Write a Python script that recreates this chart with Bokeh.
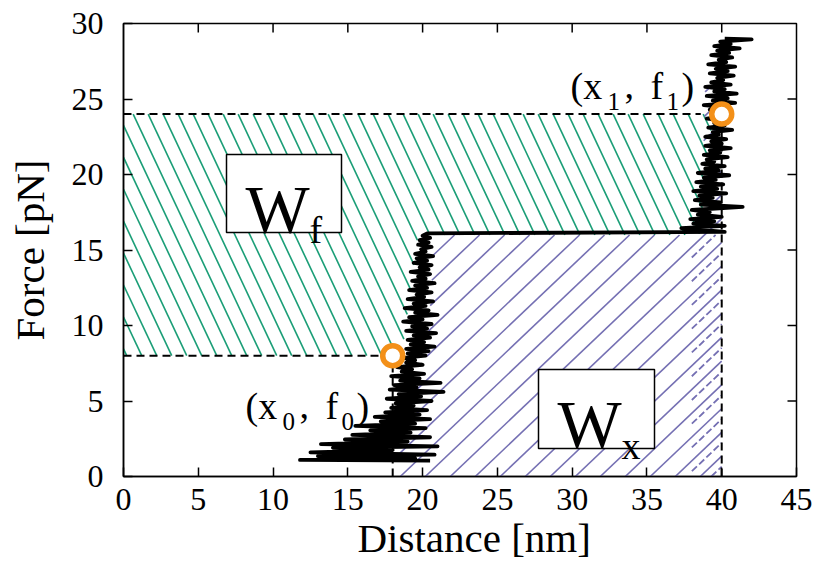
import numpy as np
from bokeh.plotting import figure
from bokeh.models import Range1d, FixedTicker, Title
from bokeh.core.properties import value
from bokeh.embed import file_html
from bokeh.resources import INLINE

# ---------------- data ----------------
x_ticks = [0, 5, 10, 15, 20, 25, 30, 35, 40, 45]
y_ticks = [0, 5, 10, 15, 20, 25, 30]
x_label = "Distance [nm]"
y_label = "Force [pN]"

x0, f0 = 18.0, 8.0     # start point
x1, f1 = 40.0, 24.0    # end point

# lower (folded) branch of the trace
lower_x = [20.5, 11.8, 19.5, 13.0, 20.8, 12.5, 18.0, 14.0, 21.0, 13.2, 19.0, 14.8, 20.5, 15.3, 19.2,
           16.5, 20.2, 15.5, 19.5, 17.2, 20.5, 16.8, 19.8, 17.5, 20.3, 17.9, 19.4, 18.2, 20.6, 17.6,
           19.9, 18.4, 21.4, 17.8, 19.6, 18.1, 21.2, 18.5, 19.8, 17.9, 20.1, 18.6, 19.3, 18.3, 20.0,
           18.9, 19.5, 18.7, 20.2, 19.0, 20.4, 18.9, 20.8, 19.2, 20.1, 19.0, 20.5, 19.4, 20.9, 18.9,
           20.3, 19.3, 20.6, 18.7, 20.0, 19.1, 21.0, 19.5, 20.4, 18.8, 20.2, 19.4, 20.7, 19.0, 20.1,
           19.6, 20.6, 19.1, 20.3, 19.5, 20.8, 19.3, 20.2, 19.7, 20.5, 19.2, 20.4, 19.8, 20.6, 19.4,
           20.3, 19.6, 20.7, 19.5, 20.2, 19.9, 20.6, 19.7, 20.4, 19.8, 20.5, 20.0, 20.3]
lower_y = [1.05, 1.1, 1.2, 1.35, 1.45, 1.6, 1.75, 1.9, 2.0, 2.15, 2.3, 2.45, 2.6, 2.75, 2.9,
           3.05, 3.2, 3.35, 3.5, 3.65, 3.8, 3.95, 4.1, 4.25, 4.4, 4.55, 4.7, 4.85, 5.0, 5.15,
           5.3, 5.45, 5.6, 5.75, 5.9, 6.05, 6.2, 6.35, 6.5, 6.65, 6.8, 6.95, 7.1, 7.25, 7.4,
           7.55, 7.7, 7.85, 8.0, 8.15, 8.3, 8.45, 8.6, 8.75, 8.9, 9.05, 9.2, 9.35, 9.5, 9.65,
           9.8, 9.95, 10.1, 10.25, 10.4, 10.55, 10.7, 10.85, 11.0, 11.15, 11.3, 11.45, 11.6, 11.75, 11.9,
           12.05, 12.2, 12.35, 12.5, 12.65, 12.8, 12.95, 13.1, 13.25, 13.4, 13.55, 13.7, 13.85, 14.0, 14.15,
           14.3, 14.45, 14.6, 14.75, 14.9, 15.05, 15.2, 15.35, 15.5, 15.65, 15.8, 15.95, 16.1]

# unfolding jump (plateau)
jump_x = [40.2]
jump_y = [16.2]

# upper (unfolded) branch of the trace
upper_x = [37.3, 40.2, 38.1, 39.5, 37.9, 40.0, 38.4, 39.2, 38.0, 41.4, 38.6, 39.9, 38.2, 39.4, 38.5,
           40.3, 38.1, 39.7, 38.6, 40.1, 38.3, 39.6, 38.8, 40.5, 38.4, 39.8, 38.9, 40.2, 38.7, 39.5,
           39.0, 40.4, 38.8, 39.9, 39.2, 40.6, 38.9, 40.0, 39.3, 40.3, 38.9, 39.8, 39.4, 40.7, 39.1,
           40.2, 39.5, 40.5, 39.0, 40.1, 39.6, 40.6, 39.2, 40.3, 38.8, 40.9, 39.4, 40.4, 39.0, 41.0,
           39.5, 40.2, 38.9, 40.6, 39.3, 40.1, 39.7, 40.8, 39.2, 40.4, 39.6, 40.9, 39.1, 40.3, 39.8,
           40.7, 39.3, 40.5, 39.7, 41.2, 39.5, 40.6, 39.9, 42.0, 40.2]
upper_y = [16.45, 16.6, 16.75, 16.9, 17.05, 17.2, 17.35, 17.5, 17.65, 17.85, 18.0, 18.15, 18.3, 18.45, 18.6,
           18.75, 18.9, 19.05, 19.2, 19.35, 19.5, 19.65, 19.8, 19.95, 20.1, 20.25, 20.4, 20.55, 20.7, 20.85,
           21.0, 21.15, 21.3, 21.45, 21.6, 21.75, 21.9, 22.05, 22.2, 22.35, 22.5, 22.65, 22.8, 22.95, 23.1,
           23.25, 23.4, 23.55, 23.7, 23.85, 24.0, 24.15, 24.3, 24.45, 24.6, 24.75, 24.9, 25.05, 25.2, 25.35,
           25.5, 25.65, 25.8, 25.95, 26.1, 26.25, 26.4, 26.55, 26.7, 26.85, 27.0, 27.15, 27.3, 27.45, 27.6,
           27.75, 27.9, 28.05, 28.2, 28.35, 28.5, 28.65, 28.8, 28.95, 29.0]

# boundaries of the shaded work areas
wf_edge_low_y = [8.0, 16.0]          # W_f right edge, below plateau
wf_edge_low_x = [18.6, 19.7]
wf_edge_high_y = [16.0, 24.0]        # W_f right edge, above plateau
wf_edge_high_x = [38.5, 39.4]
wx_edge_y = [0.0, 4.0, 8.0, 16.0]    # W_x left edge
wx_edge_x = [18.0, 18.8, 20.3, 20.8]
wx_strip_top = 25.8                  # W_x strip near x1
wx_strip_x = [38.6, 38.9]

# ---------------- figure ----------------
W, H = 816, 564
L, R, T, B = 123, 20, 23, 88
TICK = 9
p = figure(width=W, height=H, output_backend="svg", toolbar_location=None,
           x_range=Range1d(0, 45), y_range=Range1d(0, 30),
           min_border_left=L, min_border_right=R, min_border_top=T, min_border_bottom=B)
p.background_fill_color = "white"
p.border_fill_color = "white"
p.grid.visible = False
p.outline_line_color = "black"
p.outline_line_width = 1.5

sx = (W - L - R) / 45.0
sy = (H - T - B) / 30.0


def px2x(px):
    return (px - L) / sx


def px2y(py):
    return (H - B - py) / sy


FONT = "'Liberation Serif', 'DejaVu Serif', serif"
GREEN = "#1b9e77"
PURPLE = "#7570b3"
ORANGE = "#f39019"


def hatch(c_start, c_stop, c_step, k, ylo, yhi, inside):
    ys = np.linspace(ylo, yhi, 4001)
    xa, ya, xb, yb = [], [], [], []
    for c in np.arange(c_start, c_stop, c_step):
        xs = c + k * ys
        m = inside(xs, ys).astype(int)
        if not m.any():
            continue
        d = np.diff(np.concatenate([[0], m, [0]]))
        starts = np.nonzero(d == 1)[0]
        ends = np.nonzero(d == -1)[0] - 1
        for i0, i1 in zip(starts, ends):
            if i1 > i0:
                xa.append(xs[i0]); ya.append(ys[i0]); xb.append(xs[i1]); yb.append(ys[i1])
    return xa, ya, xb, yb


# W_f area (green, "\" hatch)
def in_wf(xs, ys):
    a = (ys >= f0) & (ys <= 16.0) & (xs >= 0) & (xs <= np.interp(ys, wf_edge_low_y, wf_edge_low_x))
    b = (ys > 16.0) & (ys <= f1) & (xs >= 0) & (xs <= np.interp(ys, wf_edge_high_y, wf_edge_high_x))
    return a | b


kg = -0.47 * sy / sx
g = hatch(0.0, 60.0, 15.0 / sx, kg, f0, f1, in_wf)
p.segment(g[0], g[1], g[2], g[3], line_color=GREEN, line_width=1.6)


# W_x area (purple, "/" hatch)
def in_wx(xs, ys):
    a = (ys >= 0) & (ys <= 16.0) & (xs >= np.interp(ys, wx_edge_y, wx_edge_x)) & (xs <= x1)
    b = (ys > 16.0) & (ys <= wx_strip_top) & (xs >= np.interp(ys, [16.0, wx_strip_top], wx_strip_x)) & (xs <= x1)
    return a | b


kp = (1 / 0.95) * sy / sx
pu = hatch(-40.0, 45.0, 25.0 / sx, kp, 0.0, wx_strip_top, in_wx)
p.segment(pu[0], pu[1], pu[2], pu[3], line_color=PURPLE, line_width=1.6)


def in_strip(xs, ys):
    return (ys >= 0) & (ys <= 16.0) & (xs >= 38.0) & (xs <= x1)


ps = hatch(-40.0 + 11.0 / sx, 45.0, 25.0 / sx, kp, 0.0, 16.0, in_strip)
p.segment(ps[0], ps[1], ps[2], ps[3], line_color=PURPLE, line_width=1.8, line_dash="7 3")

# dashed guide lines
p.segment([0, 0, x0, x1], [f1, f0, 0, 0], [wf_edge_high_x[-1] - 0.8, x0, x0, x1], [f1, f0, f0, f1],
          line_color="black", line_width=2, line_dash="8 5")

# trace
trace_x = lower_x + jump_x + upper_x
trace_y = lower_y + jump_y + upper_y
p.line(trace_x, trace_y, line_color="black", line_width=3.8, line_join="round")

# label boxes
boxes = [(226, 341, 154, 232), (538, 654, 369, 448)]
p.quad(left=[px2x(b[0]) for b in boxes], right=[px2x(b[1]) for b in boxes],
       top=[px2y(b[2]) for b in boxes], bottom=[px2y(b[3]) for b in boxes],
       fill_color="white", line_color="black", line_width=1.5)


def put(txt, px, py, size):
    p.text(x=[px2x(px)], y=[px2y(py)], text=[txt], text_font=value(FONT),
           text_font_size=value(f"{size}px"), text_align="left", text_baseline="alphabetic",
           text_color="black")


put("W", 245, 208, 68)
put("f", 309, 229, 38)
put("W", 557, 423, 68)
put("x", 621, 445, 38)


def point_label(ax, ay, sub):
    pieces = [("(x", 0, 0, 38), (sub, 37, 16, 25), (",", 54, 0, 38), ("f", 80, 0, 38),
              (sub, 96, 16, 25), (")", 111, 0, 38)]
    for t, dx, dy, s in pieces:
        put(t, ax + dx, ay + dy, s)


point_label(245, 405, "0")
point_label(570, 85, "1")

# end points
p.scatter([x0, x1], [f0, f1], marker="circle", size=20, fill_color="white",
          line_color=ORANGE, line_width=5.5)

# mirrored inward ticks on the top and right edges of the frame
top_ticks = x_ticks[1:-1]
right_ticks = y_ticks[1:-1]
p.segment(top_ticks, [30] * len(top_ticks), top_ticks, [30 - TICK / sy] * len(top_ticks),
          line_color="black", line_width=1.5)
p.segment([45] * len(right_ticks), right_ticks, [45 - TICK / sx] * len(right_ticks), right_ticks,
          line_color="black", line_width=1.5)

# axes
for ax in (p.xaxis[0], p.yaxis[0]):
    ax.major_tick_in = TICK
    ax.major_tick_out = 0
    ax.minor_tick_line_color = None
    ax.axis_line_color = "black"
    ax.axis_line_width = 1.5
    ax.major_tick_line_width = 1.5
    ax.major_label_text_font = FONT
    ax.major_label_text_font_size = "32px"
    ax.major_label_text_color = "black"
    ax.axis_label_text_font = FONT
    ax.axis_label_text_font_size = "41px"
    ax.axis_label_text_font_style = "normal"
    ax.axis_label_text_color = "black"
p.xaxis.ticker = FixedTicker(ticks=x_ticks)
p.yaxis.ticker = FixedTicker(ticks=y_ticks)
p.yaxis.axis_label = y_label
p.xaxis.major_label_standoff = 12
p.yaxis.major_label_standoff = 20
p.yaxis.axis_label_standoff = 16

# x axis title, placed as in the reference (left edge ~234 px right of the frame's left side)
p.add_layout(Title(text=x_label, align="left", offset=234, standoff=0,
                   text_font=FONT, text_font_size="41px", text_font_style="normal",
                   text_color="black"), "below")

open("out.html", "w").write(file_html(p, INLINE))
